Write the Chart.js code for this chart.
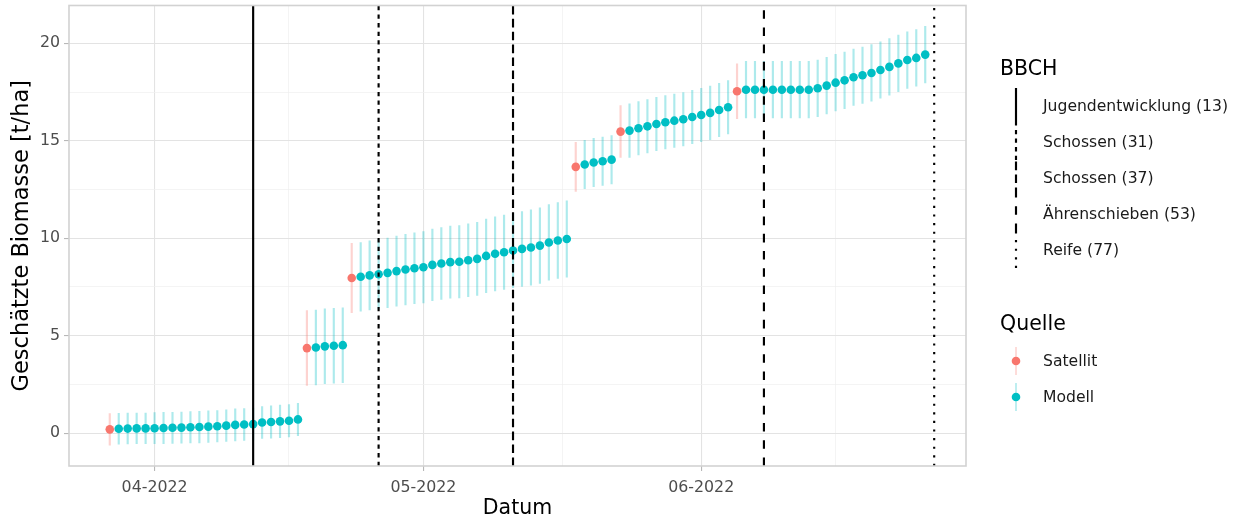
<!DOCTYPE html>
<html>
<head>
<meta charset="utf-8">
<title>Geschätzte Biomasse</title>
<script src="https://cdn.jsdelivr.net/npm/chart.js@4.4.1/dist/chart.umd.min.js"></script>
<style>
  html, body { margin: 0; padding: 0; background: #ffffff; }
  #wrap { position: relative; width: 1242px; height: 521px; background: #ffffff; overflow: hidden; }
  #chart { position: absolute; left: 0; top: 0; }
  .lg { position: absolute; font-family: 'DejaVu Sans', sans-serif; white-space: nowrap; line-height: 1; transform: translateY(-50%); color: #000; }
  .lg-title { font-size: 20.5px; }
  .lg-item { font-size: 15.6px; color: #1a1a1a; }
  svg.keys { position: absolute; overflow: visible; }
</style>
</head>
<body>
<div id="wrap">
  <canvas id="chart" width="1242" height="521"></canvas>
</div>
<script>
// ---- data -------------------------------------------------------------
const satDates  = ['2022-03-27', '2022-04-18', '2022-04-23', '2022-05-18', '2022-05-23', '2022-06-05'];
const satValues = [0.19, 4.36, 7.96, 13.66, 15.47, 17.54];
const satErrors = [0.81, 1.92, 1.78, 1.26, 1.33, 1.41];

const modelDates = [
  '2022-03-28', '2022-03-29', '2022-03-30', '2022-03-31', '2022-04-01', '2022-04-02', '2022-04-03',
  '2022-04-04', '2022-04-05', '2022-04-06', '2022-04-07', '2022-04-08', '2022-04-09', '2022-04-10',
  '2022-04-11', '2022-04-12', '2022-04-13', '2022-04-14', '2022-04-15', '2022-04-16', '2022-04-17',
  '2022-04-19', '2022-04-20', '2022-04-21', '2022-04-22',
  '2022-04-24', '2022-04-25', '2022-04-26', '2022-04-27', '2022-04-28', '2022-04-29', '2022-04-30',
  '2022-05-01', '2022-05-02', '2022-05-03', '2022-05-04', '2022-05-05', '2022-05-06', '2022-05-07',
  '2022-05-08', '2022-05-09', '2022-05-10', '2022-05-11', '2022-05-12', '2022-05-13', '2022-05-14',
  '2022-05-15', '2022-05-16', '2022-05-17',
  '2022-05-19', '2022-05-20', '2022-05-21', '2022-05-22',
  '2022-05-24', '2022-05-25', '2022-05-26', '2022-05-27', '2022-05-28', '2022-05-29', '2022-05-30',
  '2022-05-31', '2022-06-01', '2022-06-02', '2022-06-03', '2022-06-04',
  '2022-06-06', '2022-06-07', '2022-06-08', '2022-06-09', '2022-06-10', '2022-06-11', '2022-06-12',
  '2022-06-13', '2022-06-14', '2022-06-15', '2022-06-16', '2022-06-17', '2022-06-18', '2022-06-19',
  '2022-06-20', '2022-06-21', '2022-06-22', '2022-06-23', '2022-06-24', '2022-06-25', '2022-06-26'
];
const modelValues = [
  0.22, 0.23, 0.24, 0.24, 0.25, 0.26, 0.27, 0.28, 0.30, 0.31, 0.33, 0.35, 0.38, 0.42,
  0.44, 0.46, 0.54, 0.57, 0.60, 0.63, 0.70,
  4.39, 4.45, 4.48, 4.51,
  8.02, 8.09, 8.15, 8.22, 8.31, 8.39, 8.46, 8.51, 8.63, 8.70, 8.77, 8.79, 8.87, 8.94,
  9.09, 9.20, 9.28, 9.37, 9.45, 9.52, 9.62, 9.78, 9.88, 9.96,
  13.78, 13.88, 13.95, 14.03,
  15.52, 15.64, 15.74, 15.86, 15.95, 16.03, 16.10, 16.22, 16.32, 16.43, 16.58, 16.72,
  17.62, 17.62, 17.62, 17.62, 17.62, 17.62, 17.62, 17.62, 17.69, 17.83, 17.98, 18.10,
  18.26, 18.36, 18.48, 18.63, 18.79, 18.97, 19.14, 19.25, 19.42
];
const modelErrors = [
  0.79, 0.79, 0.79, 0.79, 0.80, 0.80, 0.80, 0.80, 0.80, 0.81, 0.81, 0.81, 0.81, 0.82,
  0.82, 0.82, 0.82, 0.83, 0.83, 0.83, 0.83,
  1.92, 1.92, 1.92, 1.92,
  1.76, 1.77, 1.78, 1.79, 1.80, 1.81, 1.82, 1.83, 1.84, 1.84, 1.85, 1.86, 1.87, 1.88,
  1.89, 1.90, 1.91, 1.91, 1.92, 1.93, 1.94, 1.94, 1.95, 1.96,
  1.24, 1.24, 1.24, 1.24,
  1.37, 1.37, 1.37, 1.37, 1.37, 1.37, 1.37, 1.37, 1.37, 1.37, 1.37, 1.37,
  1.45, 1.45, 1.45, 1.45, 1.45, 1.45, 1.45, 1.45, 1.45, 1.45, 1.45, 1.45,
  1.45, 1.45, 1.45, 1.45, 1.45, 1.45, 1.45, 1.45, 1.45
];

// BBCH growth stages
const bbchDates  = ['2022-04-12', '2022-04-26', '2022-05-11', '2022-06-08', '2022-06-27'];
const bbchLabels = ['Jugendentwicklung (13)', 'Schossen (31)', 'Schossen (37)', 'Ährenschieben (53)', 'Reife (77)'];

// axis breaks
const xBreakDates  = ['2022-03-01', '2022-04-01', '2022-05-01', '2022-06-01', '2022-07-01'];
const xBreakLabels = ['03-2022', '04-2022', '05-2022', '06-2022', '07-2022'];
const yBreakValues = [0, 5, 10, 15, 20];

const sourceLabels = ['Satellit', 'Modell'];

// ---- styling ------------------------------------------------------------
const FONT = "'DejaVu Sans', sans-serif";
const COL_SAT = '#F8766D';
const COL_MOD = '#00BFC4';
const COL_SAT_BAR = 'rgba(248,118,109,0.32)';
const COL_MOD_BAR = 'rgba(0,191,196,0.32)';
const LW = 2.15;                         // vline width
const lineStyles = [[], [2 * LW, 2 * LW], [4 * LW, 2 * LW], [4 * LW, 4 * LW], [1 * LW, 3 * LW]];
const X_RANGE = [-9.55, 90.55];          // days relative to 1 April
const Y_RANGE = [-1.69, 21.94];
const AREA = { left: 69, top: 5.5, right: 966, bottom: 466 };

// ---- helpers -------------------------------------------------------------
const DAY0 = Date.UTC(2022, 3, 1);
function dayOf(s) {
  const [y, m, d] = s.split('-').map(Number);
  return (Date.UTC(y, m - 1, d) - DAY0) / 86400000;
}
const inX = v => v >= X_RANGE[0] && v <= X_RANGE[1];
const inY = v => v >= Y_RANGE[0] && v <= Y_RANGE[1];

const xMajor = xBreakDates.map(dayOf);
const xMinor = xMajor.slice(1).map((v, i) => (v + xMajor[i]) / 2);
const xGrid = xMajor.concat(xMinor).filter(inX).sort((a, b) => a - b);
const xLabelOf = v => { const i = xMajor.indexOf(v); return i >= 0 ? xBreakLabels[i] : ''; };

const yMinor = yBreakValues.slice(1).map((v, i) => (v + yBreakValues[i]) / 2);
const yGrid = yBreakValues.concat(yMinor).filter(inY).sort((a, b) => a - b);
const isYMajor = v => yBreakValues.includes(v);
const isXMajor = v => xMajor.includes(v);

// ---- datasets -------------------------------------------------------------
const satPoints = satDates.map((d, i) => ({ x: dayOf(d), y: satValues[i] }));
const modPoints = modelDates.map((d, i) => ({ x: dayOf(d), y: modelValues[i] }));
const satBars = satDates.map((d, i) => ({ x: dayOf(d), y: [satValues[i] - satErrors[i], satValues[i] + satErrors[i]] }));
const modBars = modelDates.map((d, i) => ({ x: dayOf(d), y: [modelValues[i] - modelErrors[i], modelValues[i] + modelErrors[i]] }));

const datasets = [
  { type: 'bar', label: 'Satellit Fehler', data: satBars, backgroundColor: COL_SAT_BAR, barThickness: 1.5, grouped: false, order: 5 },
  { type: 'bar', label: 'Modell Fehler', data: modBars, backgroundColor: COL_MOD_BAR, barThickness: 1.5, grouped: false, order: 5 },
  { type: 'scatter', label: 'Satellit', data: satPoints, backgroundColor: COL_SAT, borderWidth: 0, pointRadius: 4.3, order: 3 },
  { type: 'scatter', label: 'Modell', data: modPoints, backgroundColor: COL_MOD, borderWidth: 0, pointRadius: 4.3, order: 3 }
];
bbchDates.forEach((d, i) => {
  const x = dayOf(d);
  datasets.push({
    type: 'line', label: bbchLabels[i],
    data: [{ x: x, y: Y_RANGE[0] }, { x: x, y: Y_RANGE[1] }],
    borderColor: '#000000', borderWidth: LW, borderDash: lineStyles[i], borderCapStyle: 'butt',
    pointRadius: 0, fill: false, order: 1
  });
});

// panel border drawn on top, like a ggplot panel frame
const panelFrame = {
  id: 'panelFrame',
  afterDatasetsDraw(chart) {
    const { ctx, chartArea: a } = chart;
    ctx.save();
    ctx.strokeStyle = '#d2d2d2';
    ctx.lineWidth = 1.6;
    ctx.strokeRect(a.left, a.top, a.right - a.left, a.bottom - a.top);
    ctx.restore();
  }
};

Chart.defaults.font.family = FONT;

new Chart(document.getElementById('chart'), {
  type: 'scatter',
  data: { datasets },
  plugins: [panelFrame],
  options: {
    responsive: false,
    animation: false,
    events: [],
    layout: { padding: { left: 0, top: AREA.top, right: 1242 - AREA.right, bottom: 0 } },
    plugins: { legend: { display: false }, tooltip: { enabled: false } },
    scales: {
      x: {
        type: 'linear', min: X_RANGE[0], max: X_RANGE[1], offset: false,
        afterBuildTicks: s => { s.ticks = xGrid.map(v => ({ value: v })); },
        afterFit: s => { s.height = 521 - AREA.bottom; s.paddingLeft = 0; s.paddingRight = 0; },
        ticks: { autoSkip: false, maxRotation: 0, padding: 7, color: '#4d4d4d', font: { size: 15.8 },
                 callback: v => xLabelOf(v) },
        grid: {
          offset: false, drawTicks: true, tickLength: 5,
          color: c => isXMajor(c.tick.value) ? '#e3e3e3' : '#efefef',
          lineWidth: c => isXMajor(c.tick.value) ? 1.1 : 0.7,
          tickColor: c => isXMajor(c.tick.value) ? '#b8b8b8' : 'rgba(0,0,0,0)',
          tickWidth: 1.1
        },
        border: { display: false },
        title: { display: true, text: 'Datum', color: '#000', font: { size: 20.5 }, padding: { top: 0, bottom: 0 } }
      },
      y: {
        type: 'linear', min: Y_RANGE[0], max: Y_RANGE[1],
        afterBuildTicks: s => { s.ticks = yGrid.map(v => ({ value: v })); },
        afterFit: s => { s.width = AREA.left; s.paddingTop = 0; s.paddingBottom = 0; },
        ticks: { autoSkip: false, padding: 4, color: '#4d4d4d', font: { size: 15.8 },
                 callback: v => isYMajor(v) ? String(v) : '' },
        grid: {
          drawTicks: true, tickLength: 5,
          color: c => isYMajor(c.tick.value) ? '#e3e3e3' : '#efefef',
          lineWidth: c => isYMajor(c.tick.value) ? 1.1 : 0.7,
          tickColor: c => isYMajor(c.tick.value) ? '#b8b8b8' : 'rgba(0,0,0,0)',
          tickWidth: 1.1
        },
        border: { display: false },
        title: { display: true, text: 'Geschätzte Biomasse [t/ha]', color: '#000', font: { size: 22.5 }, padding: { top: 8.5, bottom: 0 } }
      }
    }
  }
});

// ---- legends (HTML text, SVG keys) -----------------------------------------
const wrap = document.getElementById('wrap');
const SVGNS = 'http://www.w3.org/2000/svg';
function addText(cls, text, x, yc) {
  const el = document.createElement('div');
  el.className = 'lg ' + cls;
  el.textContent = text;
  el.style.left = x + 'px';
  el.style.top = yc + 'px';
  wrap.appendChild(el);
}
function svgEl(tag, attrs) {
  const e = document.createElementNS(SVGNS, tag);
  Object.keys(attrs).forEach(k => e.setAttribute(k, attrs[k]));
  return e;
}
const keySvg = svgEl('svg', { class: 'keys', width: 1242, height: 521 });
keySvg.style.left = '0px'; keySvg.style.top = '0px';
wrap.appendChild(keySvg);

const LEG_X = 1000, KEY_X = 1016, TXT_X = 1043, ROW = 36;
addText('lg-title', 'BBCH', LEG_X, 68);
bbchLabels.forEach((lab, i) => {
  const top = 88 + i * ROW;
  keySvg.appendChild(svgEl('line', {
    x1: KEY_X, x2: KEY_X, y1: top + ROW, y2: top, stroke: '#000', 'stroke-width': LW,
    'stroke-dasharray': lineStyles[i].length ? lineStyles[i].join(' ') : 'none', 'stroke-linecap': 'butt'
  }));
  addText('lg-item', lab, TXT_X, top + ROW / 2 + 0.5);
});

addText('lg-title', 'Quelle', LEG_X, 323);
const srcColors = [[COL_SAT, COL_SAT_BAR], [COL_MOD, COL_MOD_BAR]];
sourceLabels.forEach((lab, i) => {
  const yc = 361 + i * ROW;
  keySvg.appendChild(svgEl('line', { x1: KEY_X, x2: KEY_X, y1: yc - 14, y2: yc + 14, stroke: srcColors[i][1], 'stroke-width': 1.6 }));
  keySvg.appendChild(svgEl('circle', { cx: KEY_X, cy: yc, r: 4.3, fill: srcColors[i][0] }));
  addText('lg-item', lab, TXT_X, yc + 0.5);
});
</script>
</body>
</html>
